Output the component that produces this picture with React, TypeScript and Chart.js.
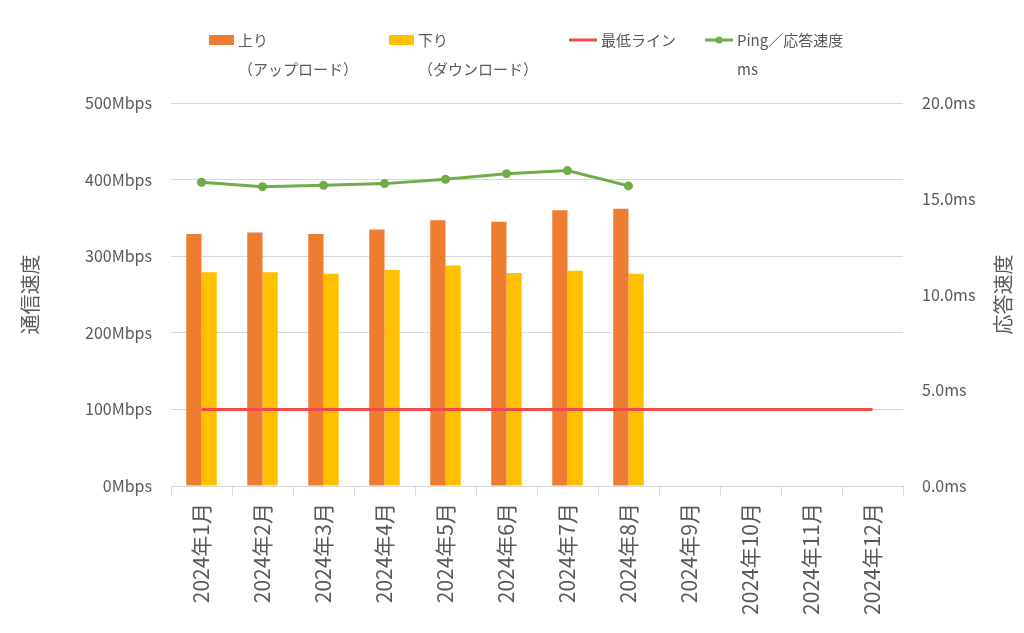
import React, { useEffect, useRef } from "react";
import { Chart, registerables } from "chart.js";

Chart.register(...registerables);

const categories = [
  "2024年1月", "2024年2月", "2024年3月", "2024年4月", "2024年5月", "2024年6月",
  "2024年7月", "2024年8月", "2024年9月", "2024年10月", "2024年11月", "2024年12月",
];
const uploadMbps = [329, 331, 329, 335, 347, 345, 360, 362];
const downloadMbps = [279, 279, 277, 282, 288, 278, 281, 277];
const minLineMbps = [100, 100, 100, 100, 100, 100, 100, 100, 100, 100, 100, 100];
const pingMs = [15.86, 15.63, 15.7, 15.79, 16.02, 16.31, 16.47, 15.67];

const seriesLabels = ["上り", "下り", "最低ライン", "Ping／応答速度"];
const seriesSubLabels = ["（アップロード）", "（ダウンロード）", "", "ms"];
const leftTitle = "通信速度";
const rightTitle = "応答速度";

const FONT = "'Noto Sans CJK JP', 'Noto Sans', sans-serif";
const TEXT = "#595959";
const GRID = "#d9d9d9";
const ORANGE = "#ED7D31";
const YELLOW = "#FFC000";
const RED = "#F04A4A";
const GREEN = "#70AD47";

const legendPlugin = {
  id: "customLegend",
  afterDraw(chart: any) {
    const ctx = chart.ctx;
    ctx.save();
    ctx.font = `15px ${FONT}`;
    ctx.fillStyle = TEXT;
    ctx.textBaseline = "middle";
    ctx.textAlign = "left";
    const y1 = 40;
    const y2 = 69;
    const items = [
      { x: 209, kind: "box", color: ORANGE },
      { x: 389, kind: "box", color: YELLOW },
      { x: 569, kind: "line", color: RED },
      { x: 705, kind: "point", color: GREEN },
    ];
    items.forEach((it, i) => {
      if (it.kind === "box") {
        ctx.fillStyle = it.color;
        ctx.fillRect(it.x, y1 - 5, 25, 10);
      } else {
        ctx.strokeStyle = it.color;
        ctx.lineWidth = 3;
        ctx.beginPath();
        ctx.moveTo(it.x, y1);
        ctx.lineTo(it.x + 28, y1);
        ctx.stroke();
        if (it.kind === "point") {
          ctx.fillStyle = it.color;
          ctx.beginPath();
          ctx.arc(it.x + 14, y1, 3.5, 0, Math.PI * 2);
          ctx.fill();
        }
      }
      const tx = it.kind === "box" ? it.x + 29 : it.x + 32;
      ctx.fillStyle = TEXT;
      ctx.fillText(seriesLabels[i], tx, y1);
      if (seriesSubLabels[i]) ctx.fillText(seriesSubLabels[i], tx, y2);
    });
    // right axis title, reading bottom to top
    const ca = chart.chartArea;
    ctx.font = `20px ${FONT}`;
    ctx.textAlign = "center";
    ctx.translate(1003, (ca.top + ca.bottom) / 2);
    ctx.rotate(-Math.PI / 2);
    ctx.fillText(rightTitle, 0, 0);
    ctx.restore();
  },
};

export default function App() {
  const ref = useRef<HTMLCanvasElement>(null);
  useEffect(() => {
    document.body.style.margin = "0";
    const chart = new Chart(ref.current as HTMLCanvasElement, {
      type: "bar",
      data: {
        labels: categories,
        datasets: [
          {
            type: "line",
            label: seriesLabels[3],
            data: pingMs,
            yAxisID: "y1",
            borderColor: GREEN,
            backgroundColor: GREEN,
            borderWidth: 3,
            pointRadius: 4.5,
            pointBackgroundColor: GREEN,
            pointBorderWidth: 0,
            order: 0,
          } as any,
          {
            type: "line",
            label: seriesLabels[2],
            data: minLineMbps,
            yAxisID: "y",
            borderColor: RED,
            backgroundColor: RED,
            borderWidth: 3,
            pointRadius: 0,
            order: 1,
          } as any,
          {
            label: seriesLabels[0],
            data: uploadMbps,
            yAxisID: "y",
            backgroundColor: ORANGE,
            categoryPercentage: 0.5,
            barPercentage: 1,
            order: 2,
          },
          {
            label: seriesLabels[1],
            data: downloadMbps,
            yAxisID: "y",
            backgroundColor: YELLOW,
            categoryPercentage: 0.5,
            barPercentage: 1,
            order: 2,
          },
        ],
      },
      options: {
        responsive: false,
        animation: false,
        devicePixelRatio: 1,
        layout: { padding: { top: 103, left: 0, right: 0, bottom: 0 } },
        plugins: {
          legend: { display: false },
          tooltip: { enabled: false },
        },
        scales: {
          x: {
            grid: {
              offset: true,
              drawOnChartArea: false,
              drawTicks: true,
              tickLength: 10,
              color: GRID,
            },
            border: { display: true, color: GRID },
            ticks: {
              minRotation: 90,
              maxRotation: 90,
              autoSkip: false,
              padding: 7,
              color: TEXT,
              font: { family: FONT, size: 21 },
            },
            afterFit(s: any) {
              s.height = 147;
            },
          },
          y: {
            position: "left",
            min: 0,
            max: 500,
            ticks: {
              stepSize: 100,
              padding: 19,
              color: TEXT,
              font: { family: FONT, size: 16 },
              callback: (v: any) => `${v}Mbps`,
            },
            grid: { color: GRID, drawTicks: false },
            border: { display: false },
            title: {
              display: true,
              text: leftTitle,
              color: TEXT,
              font: { family: FONT, size: 20 },
              padding: { top: 18, bottom: 0 },
            },
            afterFit(s: any) {
              s.width = 171;
            },
          },
          y1: {
            position: "right",
            min: 0,
            max: 20,
            ticks: {
              stepSize: 5,
              padding: 19,
              color: TEXT,
              font: { family: FONT, size: 16 },
              callback: (v: any) => `${Number(v).toFixed(1)}ms`,
            },
            grid: { display: false, drawTicks: false },
            border: { display: false },
            afterFit(s: any) {
              s.width = 121;
            },
          },
        },
      },
      plugins: [legendPlugin],
    });
    return () => chart.destroy();
  }, []);
  return (
    <div style={{ position: "absolute", left: 0, top: 0, width: 1024, height: 633, background: "#fff" }}>
      <canvas ref={ref} width={1024} height={633} />
    </div>
  );
}
